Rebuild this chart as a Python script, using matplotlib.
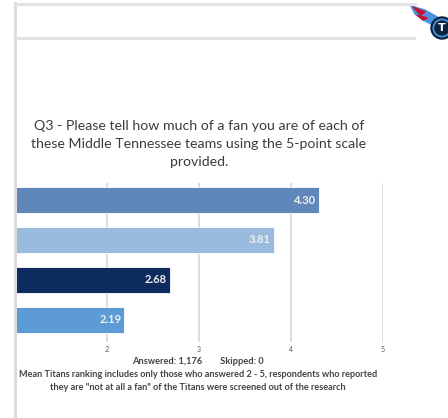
import matplotlib.pyplot as plt
from matplotlib.patches import Circle, Polygon
from matplotlib.lines import Line2D

teams = ['Titans', 'Predators', 'Sounds', 'Nashville SC']
means = [4.30, 3.81, 2.68, 2.19]
colors = ['#5F87B9', '#98BBDE', '#0D2B5E', '#5C9BD3']
ticks = [2, 3, 4, 5]

title = ('Q3 - Please tell how much of a fan you are of each of\n'
         'these Middle Tennessee teams using the 5-point scale\n'
         'provided.')
answered = 'Answered: 1,176        Skipped: 0'
note = ('Mean Titans ranking includes only those who answered 2 - 5, respondents who reported\n'
        'they are "not at all a fan" of the Titans were screened out of the research')

W, H = 448, 418
fig = plt.figure(figsize=(W / 100, H / 100), dpi=100)
fig.patch.set_facecolor('white')

# slide frame lines
fig.add_artist(Line2D([15 / W, 15 / W], [0, 1 - 3 / H], color='#DCDCDC', lw=2.2))
fig.add_artist(Line2D([15 / W, 415 / W], [1 - 4 / H, 1 - 4 / H], color='#E2E2E2', lw=2.2))
fig.add_artist(Line2D([15 / W, 414 / W], [1 - 38 / H, 1 - 38 / H], color='#E2E2E2', lw=2.2))

# logo (rough sketch)
lax = fig.add_axes([405 / W, 1 - 48 / H, 43 / W, 46 / H])
lax.set_xlim(0, 43)
lax.set_ylim(0, 46)
lax.axis('off')
lax.add_patch(Polygon([(6, 42), (20, 38), (34, 30), (26, 24), (18, 28), (10, 34)],
                      closed=True, color='#4B92DB'))
lax.add_patch(Polygon([(8, 41), (20, 36), (16, 33)], closed=True, color='#C8102E'))
lax.add_patch(Polygon([(12, 33), (22, 30), (18, 28)], closed=True, color='#C8102E'))
lax.add_patch(Circle((37, 20), 11, color='#0C2340'))
lax.add_patch(Circle((37, 20), 8.8, color='#4B92DB'))
lax.add_patch(Circle((37, 20), 7, color='#0C2340'))
lax.text(37, 20, 'T', color='white', fontsize=8, fontweight='bold',
         ha='center', va='center', family='DejaVu Sans')

# chart
x0, x1 = 15, 383
ytop, ybot = 183, 342
ax = fig.add_axes([x0 / W, 1 - ybot / H, (x1 - x0) / W, (ybot - ytop) / H])
ypos = list(range(len(teams)))
ax.barh(ypos, [m - 1 for m in means], left=1, height=0.66, color=colors,
        edgecolor='white', linewidth=0.6, zorder=3)
for y, m in zip(ypos, means):
    ax.text(m - 0.03, y, f'{m:.2f}', color='#F0F0F0', fontsize=8, fontweight='bold',
            ha='right', va='center', family='Lato', zorder=4)
ax.set_xlim(1, 5)
ax.set_ylim(3.56, -0.43)
ax.set_yticks([])
ax.set_xticks(ticks)
ax.set_xticklabels([str(t) for t in ticks], fontsize=5, color='#555555', family='Lato')
ax.tick_params(axis='x', length=0, pad=3)
ax.grid(axis='x', color='#DADADA', lw=1.3, zorder=0)
for s in ax.spines.values():
    s.set_visible(False)

fig.text(199 / W, 1 - 144 / H, title, ha='center', va='center', fontsize=10.2,
         color='#3C3C3C', family='Lato', linespacing=1.6)
fig.text(198 / W, 1 - 362 / H, answered, ha='center', va='center', fontsize=6.7,
         color='#444444', family='Lato', fontweight='bold')
fig.text(198 / W, 1 - 381 / H, note, ha='center', va='center', fontsize=6.6,
         color='#444444', family='Lato', fontweight='bold', linespacing=1.45)

fig.savefig('out.png', dpi=100)
